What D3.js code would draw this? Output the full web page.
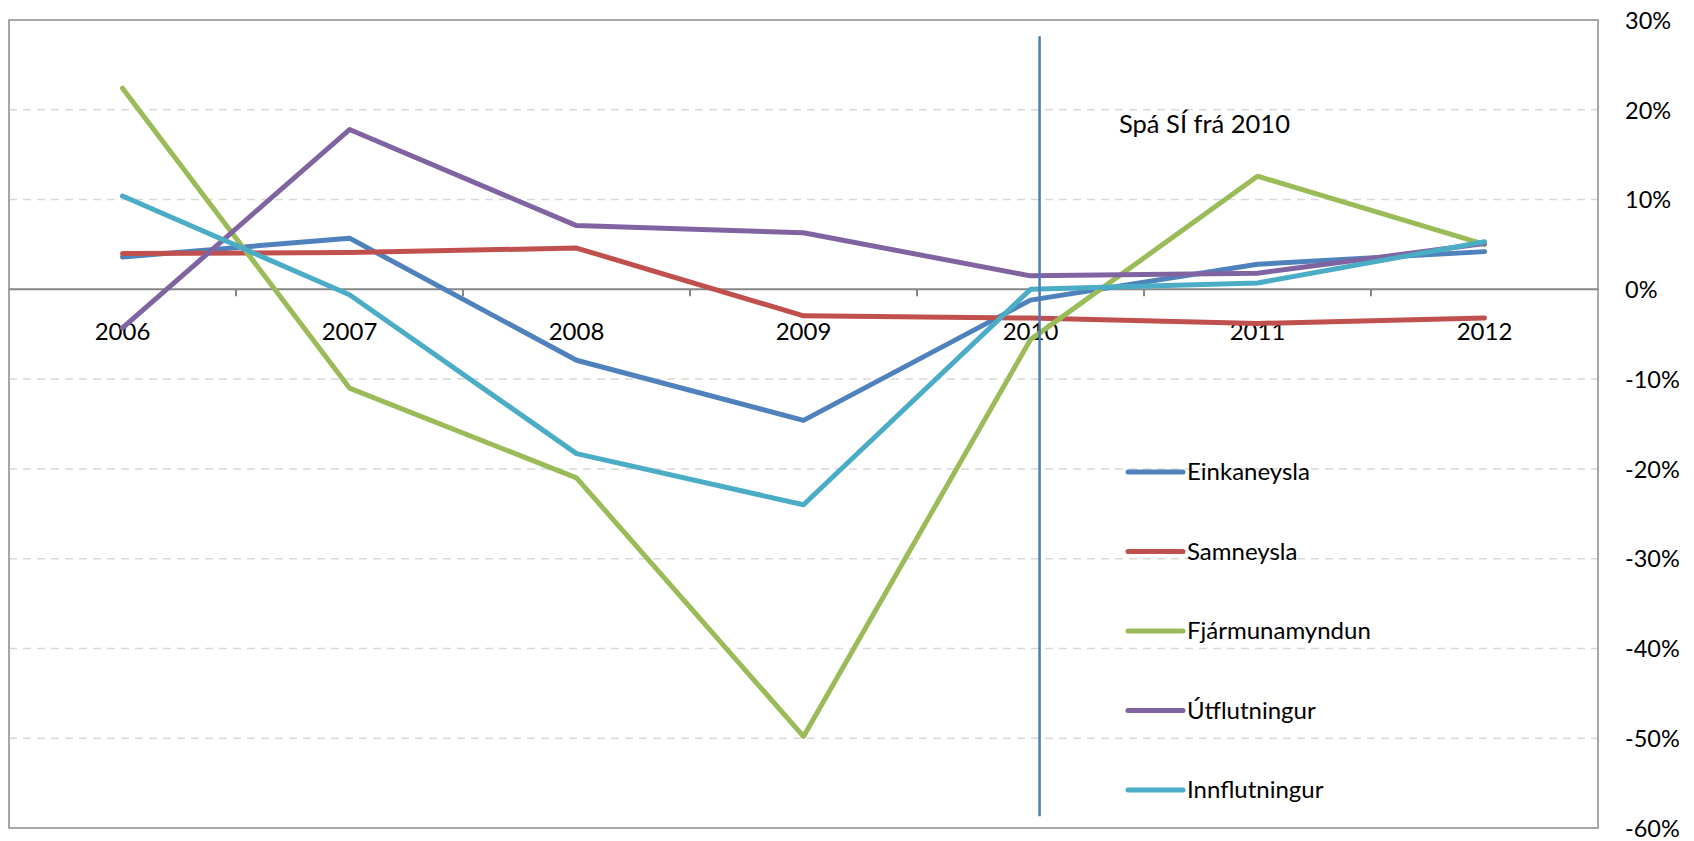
<!DOCTYPE html>
<html>
<head>
<meta charset="utf-8">
<script src="https://cdn.jsdelivr.net/npm/d3@7"></script>
<style>
  html, body { margin: 0; padding: 0; background: #ffffff; }
  svg { display: block; }
  text { font-family: Lato, "Liberation Sans", sans-serif; fill: #000; }
</style>
</head>
<body>
<svg id="chart" width="1694" height="841"></svg>
<script>
// Years on the category axis
const years = ["2006", "2007", "2008", "2009", "2010", "2011", "2012"];

// Annual change, % (forecast from 2010)
const einkaneysla    = [3.6, 5.7, -7.9, -14.6, -1.2, 2.8, 4.2];
const samneysla      = [4.0, 4.1, 4.6, -2.95, -3.2, -3.8, -3.2];
const fjarmunamyndun = [22.4, -11.0, -21.0, -49.8, -5.6, 12.6, 5.0];
const utflutningur   = [-4.3, 17.8, 7.1, 6.3, 1.5, 1.8, 5.1];
const innflutningur  = [10.4, -0.6, -18.3, -24.0, 0.0, 0.7, 5.3];

const seriesNames  = ["Einkaneysla", "Samneysla", "Fjármunamyndun", "Útflutningur", "Innflutningur"];
const seriesValues = [einkaneysla, samneysla, fjarmunamyndun, utflutningur, innflutningur];
const seriesColors = ["#4F81BD", "#C0504D", "#9BBB59", "#8064A2", "#4BACC6"];

// Value axis ticks
const yTicks = [30, 20, 10, 0, -10, -20, -30, -40, -50, -60];

// Forecast marker: position on the year axis and vertical extent in %
const forecastYear = 2010.04;
const forecastSpan = [28.2, -58.7];
const forecastLabel = "Spá SÍ frá 2010";
const forecastLabelAt = { year: 2010.39, value: 17.4 };

// ---- layout ----
const plot = { left: 9, top: 20, right: 1598, bottom: 828 };
const svg = d3.select("#chart");

const x = d3.scaleBand().domain(years).range([plot.left, plot.right]).paddingInner(0).paddingOuter(0);
const xYear = d3.scaleLinear()
  .domain([+years[0] - 0.5, +years[years.length - 1] + 0.5])
  .range([plot.left, plot.right]);
const y = d3.scaleLinear().domain([-60, 30]).range([plot.bottom, plot.top]);
const cx = d => x(d) + x.bandwidth() / 2;

// dashed horizontal gridlines
svg.append("g")
  .selectAll("line")
  .data(yTicks.filter(v => v !== 0 && v !== 30 && v !== -60))
  .join("line")
  .attr("x1", plot.left).attr("x2", plot.right)
  .attr("y1", d => y(d)).attr("y2", d => y(d))
  .attr("stroke", "#d9d9d9").attr("stroke-width", 1.5)
  .attr("stroke-dasharray", "8,6");

// plot area border
svg.append("rect")
  .attr("x", plot.left).attr("y", plot.top)
  .attr("width", plot.right - plot.left).attr("height", plot.bottom - plot.top)
  .attr("fill", "none").attr("stroke", "#a6a6a6").attr("stroke-width", 2);

// value axis labels on the right
const yAxis = d3.axisRight(y).tickValues(yTicks).tickSize(0).tickPadding(0)
  .tickFormat(d => d + "%");
const yG = svg.append("g").attr("transform", `translate(${plot.right + 27},0)`).call(yAxis);
yG.select(".domain").remove();
yG.selectAll("text")
  .attr("x", 0).attr("dy", "0.35em")
  .attr("text-anchor", "start")
  .style("font-family", "Lato, sans-serif")
  .style("font-size", "23.5px").style("fill", "#000");

// category axis along zero, with tick marks between categories
const xAxis = d3.axisBottom(x).tickSize(0).tickPadding(0);
const xG = svg.append("g").attr("transform", `translate(0,${y(0)})`).call(xAxis);
xG.select(".domain").remove();
xG.selectAll("text")
  .attr("y", 0).attr("dy", 51)
  .style("font-family", "Lato, sans-serif")
  .style("font-size", "24px").style("fill", "#000");

svg.append("line")
  .attr("x1", plot.left).attr("x2", plot.right)
  .attr("y1", y(0)).attr("y2", y(0))
  .attr("stroke", "#868686").attr("stroke-width", 2);

svg.append("g")
  .selectAll("line")
  .data(years.slice(1))
  .join("line")
  .attr("x1", d => x(d)).attr("x2", d => x(d))
  .attr("y1", y(0)).attr("y2", y(0) + 7)
  .attr("stroke", "#868686").attr("stroke-width", 2);

// series lines
const line = d3.line()
  .x((d, i) => cx(years[i]))
  .y(d => y(d));

svg.append("g")
  .selectAll("path")
  .data(seriesValues)
  .join("path")
  .attr("d", d => line(d))
  .attr("fill", "none")
  .attr("stroke", (d, i) => seriesColors[i])
  .attr("stroke-width", 5)
  .attr("stroke-linejoin", "round")
  .attr("stroke-linecap", "round");

// legend
const legend = { x: 1128, y: 472, step: 79.5, sample: 55 };
const lg = svg.append("g")
  .selectAll("g")
  .data(seriesNames)
  .join("g")
  .attr("transform", (d, i) => `translate(${legend.x},${legend.y + i * legend.step})`);
lg.append("line")
  .attr("x1", 0).attr("x2", legend.sample)
  .attr("stroke", (d, i) => seriesColors[i])
  .attr("stroke-width", 5).attr("stroke-linecap", "round");
lg.append("text")
  .attr("x", legend.sample + 4).attr("dy", "0.35em")
  .style("font-size", "24px")
  .text(d => d);

// forecast marker line and label
svg.append("line")
  .attr("x1", xYear(forecastYear)).attr("x2", xYear(forecastYear))
  .attr("y1", y(forecastSpan[0])).attr("y2", y(forecastSpan[1]))
  .attr("stroke", "#4A7EBB").attr("stroke-width", 2.5);

svg.append("text")
  .attr("x", xYear(forecastLabelAt.year))
  .attr("y", y(forecastLabelAt.value))
  .style("font-size", "25.5px")
  .text(forecastLabel);
</script>
</body>
</html>
